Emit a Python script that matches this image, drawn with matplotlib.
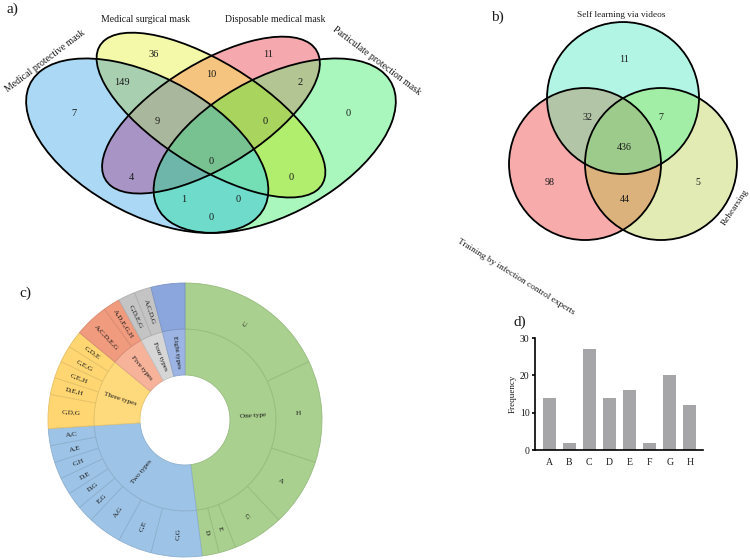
"""Mask / training overview: two Venn diagrams, a sunburst of type combinations and a bar chart."""

import matplotlib

matplotlib.use("Agg")
import matplotlib.colors as mcolors
import matplotlib.pyplot as plt
import numpy as np
from matplotlib.patches import Ellipse

plt.rcParams["font.family"] = ["Liberation Serif", "DejaVu Serif"]

# a) mask types owned (4-set Venn). Region codes: one digit per set, in mask_sets order.
mask_sets = [
    "Medical protective mask",
    "Medical surgical mask",
    "Disposable medical mask",
    "Particulate protection mask",
]
mask_regions = ["1000", "0100", "0010", "0001", "1100", "0110", "0011", "1010",
                "0101", "1001", "1110", "0111", "1011", "1101", "1111"]
mask_counts = [7, 36, 11, 0, 149, 10, 2, 4, 0, 0, 9, 0, 1, 0, 0]

# b) training sources (3-set Venn)
training_sets = ["Self learning via videos", "Training by infection control experts", "Rehearsing"]
training_regions = ["100", "010", "001", "110", "101", "011", "111"]
training_counts = [11, 98, 5, 32, 7, 44, 436]

# c) combinations of types used, grouped by how many types
type_groups = ["One type", "Two types", "Three types", "Five types", "Four types", "Eight types"]
type_group_n = [1, 2, 3, 5, 4, 8]
combo_labels = ["C", "H", "A", "G", "E", "D",
                "C,G", "C,E", "A,G", "E,G", "D,G", "D,E", "C,H", "A,E", "A,C",
                "C,D,G", "D,E,H", "C,E,H", "C,E,G", "C,D,E",
                "A,C,D,E,G", "A,D,E,G,H",
                "C,D,E,G", "A,C,D,G",
                "A,B,C,D,E,F,G,H"]
combo_counts = [9, 6, 4, 3, 1, 1,
                3, 2, 2, 1, 1, 1, 1, 1, 1,
                2, 1, 1, 1, 1,
                2, 1,
                1, 1,
                2]

# d) frequency of each type
type_names = ["A", "B", "C", "D", "E", "F", "G", "H"]
type_freq = [14, 2, 27, 14, 16, 2, 20, 12]

# ---- styling / layout ----
W, H = 750, 560
TEXT = "#1a1a1a"

# ellipses (cx, cy, a, b, angle) in unit Venn coordinates
mask_shapes = [
    (0.35, 0.47, 0.35, 0.20, 135),
    (0.50, 0.57, 0.35, 0.15, 135),
    (0.50, 0.57, 0.33, 0.15, 45),
    (0.65, 0.47, 0.35, 0.20, 45),
]
mask_colors = {
    "1000": "#acdaf6", "0100": "#f3f9aa", "0010": "#f6aaae", "0001": "#aaf7be",
    "1100": "#a8cfb0", "0110": "#f5c57f", "0011": "#b3c592", "1010": "#a895c5",
    "0101": "#b3ee6e", "1001": "#70dccb", "1110": "#aab89c", "0111": "#a9d45e",
    "1011": "#6fb6aa", "1101": "#74e0b5", "1111": "#79c290",
}
mask_label_xy = {
    "1000": (0.178, 0.574), "0100": (0.365, 0.767), "0010": (0.635, 0.767),
    "0001": (0.822, 0.574), "1100": (0.291, 0.675), "0110": (0.500, 0.701),
    "0011": (0.709, 0.675), "1110": (0.373, 0.548), "0111": (0.627, 0.548),
    "1111": (0.500, 0.417), "1010": (0.312, 0.365), "0101": (0.688, 0.365),
    "1011": (0.436, 0.293), "1101": (0.564, 0.293), "1001": (0.500, 0.234),
}
mask_name_xy = [(0.109, 0.747, 37), (0.345, 0.881, 0), (0.652, 0.881, 0), (0.891, 0.747, -37)]

training_shapes = [(0.0, 0.868, 1, 1, 0), (-0.5, 0.0, 1, 1, 0), (0.5, 0.0, 1, 1, 0)]
training_colors = {
    "100": "#b3f6e4", "010": "#f7abab", "001": "#e2ecb4", "110": "#b2c5a6",
    "101": "#a3eea6", "011": "#dbb27d", "111": "#9ccb8b",
}
training_label_xy = {
    "100": (0.02, 1.37), "010": (-0.96, -0.24), "001": (0.99, -0.24),
    "110": (-0.47, 0.61), "101": (0.50, 0.61), "011": (0.02, -0.47), "111": (0.02, 0.22),
}
training_name_xy = [(-0.02, 1.96, 0), (-1.41, -1.49, -32), (1.47, -0.57, 56)]

group_inner_colors = ["#a9d08e", "#9dc3e6", "#ffda7c", "#f7b39a", "#d6d6d6", "#9cb4e3"]
group_outer_colors = ["#a9d08e", "#9dc3e6", "#ffd672", "#f09a7e", "#c4c4c4", "#8aa6dc"]


def add_px_axes(fig, x0, y0, x1, y1):
    """Axes placed by pixel box (top-left origin)."""
    return fig.add_axes([x0 / W, 1 - y1 / H, (x1 - x0) / W, (y1 - y0) / H])


def draw_venn(ax, shapes, colors, xlim, ylim, res):
    """Colour each pixel by the set of shapes containing it, then outline the shapes."""
    gx, gy = np.meshgrid(np.linspace(*xlim, res[0]), np.linspace(*ylim, res[1]))
    code = np.zeros(gx.shape, dtype=int)
    for bit, (cx, cy, a, b, angle) in enumerate(shapes):
        t = np.deg2rad(angle)
        dx, dy = gx - cx, gy - cy
        u = dx * np.cos(t) + dy * np.sin(t)
        v = -dx * np.sin(t) + dy * np.cos(t)
        code |= (((u / a) ** 2 + (v / b) ** 2) <= 1).astype(int) << bit
    palette = np.zeros((2 ** len(shapes), 4))
    for key, color in colors.items():
        palette[sum(1 << i for i, ch in enumerate(key) if ch == "1")] = mcolors.to_rgba(color)
    ax.imshow(palette[code], extent=(*xlim, *ylim), origin="lower", aspect="auto",
              interpolation="bilinear", zorder=0)
    for cx, cy, a, b, angle in shapes:
        ax.add_patch(Ellipse((cx, cy), 2 * a, 2 * b, angle=angle, fill=False,
                             edgecolor="black", linewidth=1.3, zorder=2))
    ax.set_xlim(*xlim)
    ax.set_ylim(*ylim)
    ax.axis("off")


def radial_rotation(mid):
    ang = mid % 360
    return ang - 180 if 90 < ang < 270 else ang


def darker(color, f=0.9):
    return tuple(c * f for c in mcolors.to_rgb(color))


fig = plt.figure(figsize=(W / 100, H / 100), dpi=100)

# ---- a) ----
ax_a = add_px_axes(fig, 0, 0, 440, 262)
draw_venn(ax_a, mask_shapes, mask_colors, (0.0035, 1.039), (0.090, 0.946), (880, 524))
for code, n in zip(mask_regions, mask_counts):
    x, y = mask_label_xy[code]
    ax_a.text(x, y, str(n), ha="center", va="center", fontsize=7.5, color=TEXT, zorder=3)
for name, (x, y, rot) in zip(mask_sets, mask_name_xy):
    ax_a.text(x, y, name, ha="center", va="center", rotation=rot, fontsize=7.0,
              color=TEXT, rotation_mode="anchor")

# ---- b) ----
ax_b = add_px_axes(fig, 440, 0, 750, 330)
draw_venn(ax_b, training_shapes, training_colors, (-2.408, 1.671), (-2.184, 2.158), (620, 660))
for code, n in zip(training_regions, training_counts):
    x, y = training_label_xy[code]
    ax_b.text(x, y, str(n), ha="center", va="center", fontsize=7.2, color=TEXT, zorder=3)
for name, (x, y, rot) in zip(training_sets, training_name_xy):
    ax_b.text(x, y, name, ha="center", va="center", rotation=rot, fontsize=6.7,
              color=TEXT, rotation_mode="anchor")

# ---- c) sunburst ----
ax_c = add_px_axes(fig, 45, 280, 325, 560)
n_types = [len(lbl.split(",")) for lbl in combo_labels]
group_counts = [sum(c for c, k in zip(combo_counts, n_types) if k == n) for n in type_group_n]
outer_colors = [group_outer_colors[type_group_n.index(k)] for k in n_types]

inner, _ = ax_c.pie(group_counts, radius=91, startangle=90, counterclock=False,
                    colors=group_inner_colors, wedgeprops=dict(width=46, linewidth=0.6))
outer, _ = ax_c.pie(combo_counts, radius=137, startangle=90, counterclock=False,
                    colors=outer_colors, wedgeprops=dict(width=46, linewidth=0.6))
for w in inner + outer:
    w.set_edgecolor(darker(w.get_facecolor()))

for w, label in zip(inner, type_groups):
    mid = (w.theta1 + w.theta2) / 2
    r = w.r - w.width / 2
    ax_c.text(r * np.cos(np.deg2rad(mid)), r * np.sin(np.deg2rad(mid)), label,
              rotation=radial_rotation(mid), ha="center", va="center",
              rotation_mode="anchor", fontsize=5.2, color=TEXT)
for w, label, k in zip(outer, combo_labels, n_types):
    if k == 8:  # all eight types: left unlabelled in the figure
        continue
    mid = (w.theta1 + w.theta2) / 2
    r = w.r - w.width / 2
    ax_c.text(r * np.cos(np.deg2rad(mid)), r * np.sin(np.deg2rad(mid)), label,
              rotation=radial_rotation(mid), ha="center", va="center",
              rotation_mode="anchor", fontsize=5.2, color=TEXT)
ax_c.set_xlim(-140, 140)
ax_c.set_ylim(-140, 140)
ax_c.set_aspect("equal")
ax_c.axis("off")

# ---- d) bar chart ----
ax_d = add_px_axes(fig, 535, 338, 703, 450)
ax_d.bar(type_names, type_freq, width=0.65, color="#a6a6a8")
ax_d.set_xlim(-0.7, 7.65)
ax_d.set_ylim(0, 30)
ax_d.set_yticks([0, 10, 20, 30])
ax_d.set_ylabel("Frequency", fontsize=6.5, labelpad=2, color=TEXT)
for side in ("top", "right"):
    ax_d.spines[side].set_visible(False)
for side in ("left", "bottom"):
    ax_d.spines[side].set_linewidth(1.2)
ax_d.tick_params(axis="y", length=2.5, width=1.2, pad=1.5, labelsize=7, labelcolor=TEXT)
ax_d.tick_params(axis="x", length=0, pad=5.5, labelsize=7, labelcolor=TEXT)

# panel letters
for letter, (px, py) in zip(["a)", "b)", "c)", "d)"], [(12, 9), (497, 17), (25, 293), (520, 322)]):
    fig.text(px / W, 1 - py / H, letter, ha="center", va="center", fontsize=11, color=TEXT)

fig.savefig("out.png", dpi=100)
plt.close(fig)
